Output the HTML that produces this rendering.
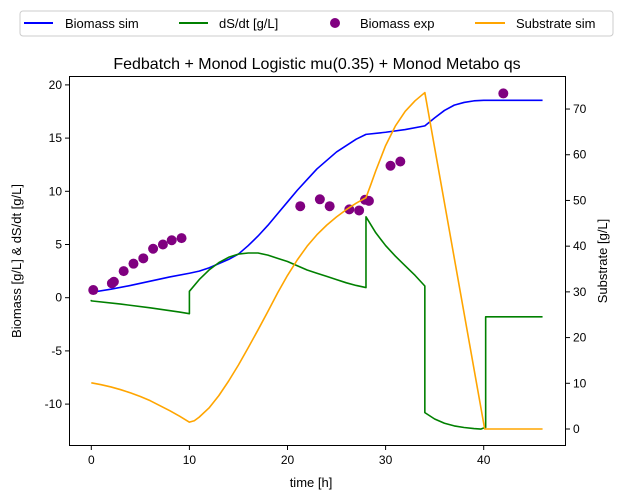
<!DOCTYPE html>
<html><head><meta charset="utf-8"><style>
body{margin:0;background:#fff;}
svg{display:block;font-family:"Liberation Sans","DejaVu Sans",sans-serif;}
</style></head><body>
<svg id="c" width="623" height="499" xmlns="http://www.w3.org/2000/svg">
<rect x="0" y="0" width="623" height="499" fill="#fff"/>
<g id="legend">
<rect x="20" y="11" width="593" height="25" rx="3" fill="#fff" stroke="#ccc"/>
<line x1="24" y1="23" x2="53" y2="23" stroke="blue" stroke-width="2"/>
<text x="65" y="28" font-size="13">Biomass sim</text>
<line x1="179" y1="23" x2="208" y2="23" stroke="green" stroke-width="2"/>
<text x="219" y="28" font-size="13">dS/dt [g/L]</text>
<circle cx="335" cy="23" r="5" fill="purple"/>
<text x="360" y="28" font-size="13">Biomass exp</text>
<line x1="475" y1="23" x2="505" y2="23" stroke="orange" stroke-width="2"/>
<text x="516" y="28" font-size="13">Substrate sim</text>
</g>
<text x="317" y="69" font-size="16" text-anchor="middle">Fedbatch + Monod Logistic mu(0.35) + Monod Metabo qs</text>
<text x="311" y="487" font-size="13" text-anchor="middle">time [h]</text>
<text transform="translate(21,261) rotate(-90)" font-size="13" text-anchor="middle">Biomass [g/L] &amp; dS/dt [g/L]</text>
<text transform="translate(607,261) rotate(-90)" font-size="13" text-anchor="middle">Substrate [g/L]</text>
<g id="plot"></g>
<rect x="69.5" y="76.5" width="496" height="369" fill="none" stroke="#000" stroke-width="1"/>
</svg>
<script>
const xTicks=[0,10,20,30,40];
const yTicks=[-10,-5,0,5,10,15,20];
const y2Ticks=[0,10,20,30,40,50,60,70];
const bioT=[0,2,4,6,8,10,11,12,13,14,15,16,17,18,19,20,21,22,23,24,25,26,27,28,30,32,34,35,36,37,38,39,40,46];
const bioV=[0.5,0.8,1.15,1.55,1.95,2.3,2.5,2.8,3.2,3.6,4.1,4.9,5.8,6.8,7.9,9.0,10.1,11.1,12.1,12.9,13.7,14.3,14.9,15.35,15.55,15.8,16.15,16.9,17.6,18.1,18.35,18.5,18.55,18.55];
const dsT=[0,0,3,6,9,10,10,11,12,13,14,15,16,17,18,19,20,21,22,23,24,25,26,27,28,28,29,30,31,32,33,34,34,35,36,37,38,39,39.7,40,40.2,40.2,46];
const dsV=[-0.2,-0.3,-0.6,-0.95,-1.35,-1.5,0.6,1.7,2.6,3.3,3.8,4.1,4.2,4.2,4.0,3.7,3.4,3.0,2.6,2.3,2.0,1.7,1.4,1.15,0.95,7.6,6.1,4.9,3.9,3.0,2.1,1.1,-10.8,-11.4,-11.8,-12.05,-12.2,-12.3,-12.35,-12.25,-12.2,-1.8,-1.8];
const subT=[0,1,2,3,4,5,6,7,8,9,10,10.5,11,12,13,14,15,16,17,18,19,20,21,22,23,24,25,26,27,28,28.5,29,30,31,32,33,34,40.1,46];
const subV=[10.1,9.7,9.2,8.6,7.9,7.1,6.2,5.1,4.0,2.8,1.5,1.8,2.6,4.6,7.3,10.5,14,17.8,21.7,25.7,29.8,33.6,37,40,42.5,44.6,46.4,48,49.4,50.6,53.5,56.5,62,66.3,69.5,71.8,73.6,0,0];
const expT=[0.2,2.1,2.3,3.3,4.3,5.3,6.3,7.3,8.2,9.2,21.3,23.3,24.3,26.3,27.3,27.9,28.3,30.5,31.5,42];
const expV=[0.72,1.35,1.5,2.5,3.2,3.7,4.6,5.0,5.4,5.6,8.6,9.25,8.6,8.3,8.2,9.2,9.1,12.4,12.8,19.2];
const X=t=>91.3+t*9.81, Y=v=>297.7-v*10.64, Y2=v=>429-v*4.571;
const NS="http://www.w3.org/2000/svg", P=document.getElementById('plot');
function mk(tag,a){const e=document.createElementNS(NS,tag);for(const k in a)e.setAttribute(k,a[k]);P.appendChild(e);return e;}
xTicks.forEach(t=>{mk('line',{x1:X(t),x2:X(t),y1:446,y2:450,stroke:'#000'});
const e=mk('text',{x:X(t),y:464,'font-size':12,'text-anchor':'middle'});e.textContent=t;

});
yTicks.forEach(v=>{mk('line',{x1:65,x2:69,y1:Y(v),y2:Y(v),stroke:'#000'});
const e=mk('text',{x:62,y:Y(v)+4,'font-size':12,'text-anchor':'end'});e.textContent=v;

});
y2Ticks.forEach(v=>{mk('line',{x1:566,x2:570,y1:Y2(v),y2:Y2(v),stroke:'#000'});
const e=mk('text',{x:573,y:Y2(v)+4,'font-size':12});e.textContent=v;

});
function line(T,V,f,c,n){const e=mk('polyline',{points:T.map((t,i)=>X(t)+','+f(V[i])).join(' '),fill:'none',stroke:c,'stroke-width':1.6,'stroke-linejoin':'round'});

}
line(bioT,bioV,Y,'blue','biomass-sim-line');
line(dsT,dsV,Y,'green','dsdt-line');
expT.forEach((t,i)=>{const e=mk('circle',{cx:X(t),cy:Y(expV[i]),r:5,fill:'purple'});

});
line(subT,subV,Y2,'orange','substrate-sim-line');
</script>
</body></html>
